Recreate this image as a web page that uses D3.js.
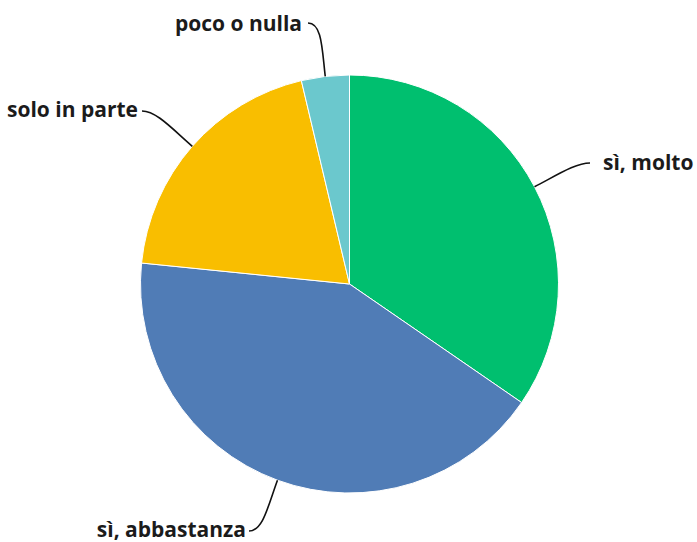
<!DOCTYPE html>
<html>
<head>
<meta charset="utf-8">
<script src="https://cdn.jsdelivr.net/npm/d3@7"></script>
<style>
  html, body { margin: 0; padding: 0; background: #fff; }
  svg { display: block; }
  .lbl { font-family: "Open Sans", sans-serif; font-weight: 700; fill: #1b1b1b; }
</style>
</head>
<body>
<svg id="chart" width="697" height="542"></svg>
<script>
const categories = ["sì, molto", "sì, abbastanza", "solo in parte", "poco o nulla"];
const values = [34.6, 42.0, 19.7, 3.7];
const colors = ["#00bf6f", "#507cb6", "#f9be00", "#6bc8cd"];

const W = 697, H = 542;
const cx = 349.5, cy = 284, R = 209;
// label anchor points (where leader line meets the label) and side
const labelLayout = [
  { x: 590, y: 163, side: "right", tx: 603, ty: 170 },
  { x: 249, y: 531, side: "left", tx: 246, ty: 537 },
  { x: 142, y: 111, side: "left", tx: 138, ty: 117 },
  { x: 308, y: 23, side: "left", tx: 302, ty: 31 }
];

const svg = d3.select("#chart");
const g = svg.append("g").attr("transform", `translate(${cx},${cy})`);

const data = categories.map((c, i) => ({ cat: c, value: values[i], color: colors[i] }));
const pie = d3.pie().value(d => d.value).sort(null);
const arcs = pie(data);
const arc = d3.arc().innerRadius(0).outerRadius(R);

g.selectAll("path.slice")
  .data(arcs)
  .enter().append("path")
  .attr("class", "slice")
  .attr("d", arc)
  .attr("fill", d => d.data.color)
  .attr("stroke", "#fff")
  .attr("stroke-width", 1);

// leader lines
arcs.forEach((a, i) => {
  const L = labelLayout[i];
  const mid = (a.startAngle + a.endAngle) / 2;
  const ex = cx + R * Math.sin(mid), ey = cy - R * Math.cos(mid);
  const rx = Math.sin(mid), ry = -Math.cos(mid);
  const dir = L.side === "right" ? -1 : 1;
  const p = d3.path();
  p.moveTo(L.x, L.y);
  p.bezierCurveTo(L.x + dir * 14, L.y, ex + rx * 28, ey + ry * 28, ex, ey);
  svg.append("path")
    .attr("d", p.toString())
    .attr("fill", "none")
    .attr("stroke", "#111")
    .attr("stroke-width", 1.6);
  svg.append("text")
    .attr("class", "lbl")
    .attr("x", L.tx)
    .attr("y", L.ty)
    .attr("text-anchor", L.side === "right" ? "start" : "end")
    .style("font-size", "21px")
    .text(a.data.cat);
});
</script>
</body>
</html>
